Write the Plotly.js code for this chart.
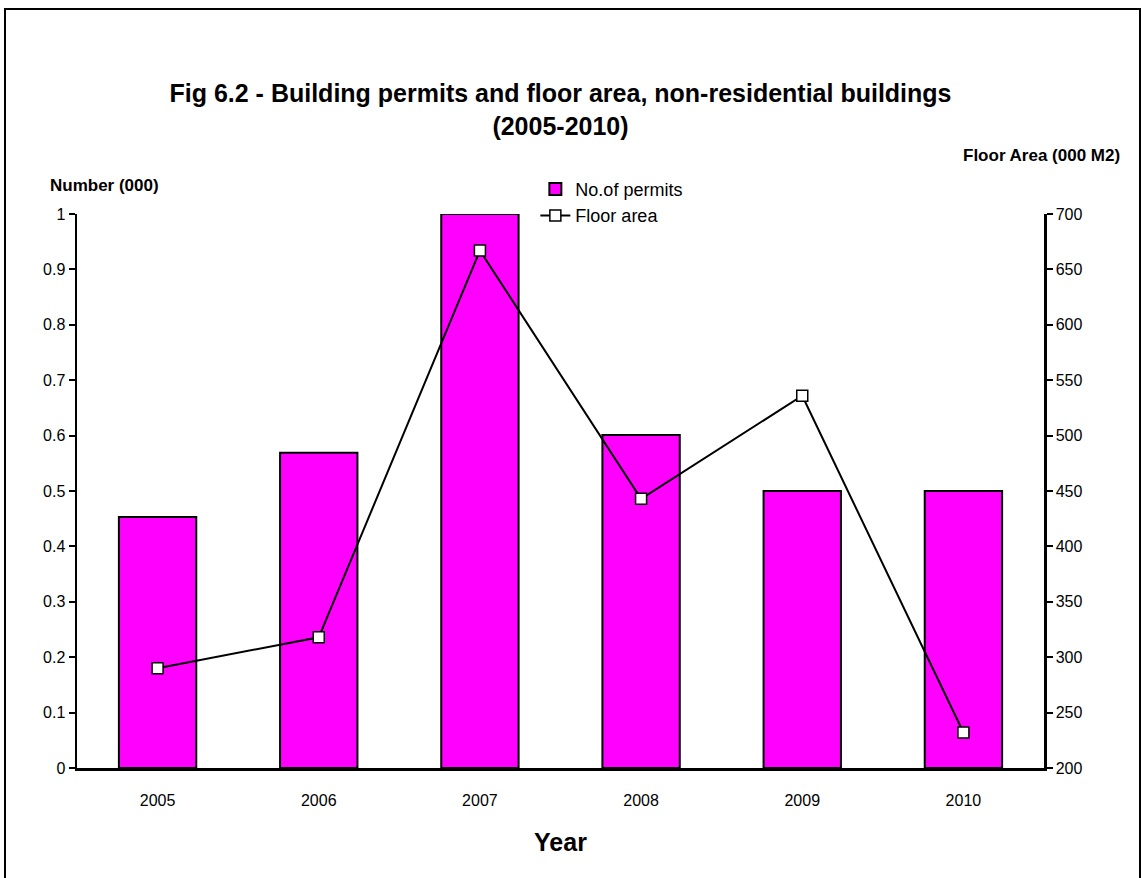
<!DOCTYPE html>
<html>
<head>
<meta charset="utf-8">
<script src="https://cdn.plot.ly/plotly-3.0.1.min.js"></script>
<style>
  html, body { margin: 0; padding: 0; background: #fff; overflow: hidden; }
  #frame { position: absolute; left: 4px; top: 8px; width: 1133px; height: 900px; border: 2px solid #000; }
  #chart { position: absolute; left: 0; top: 0; width: 1141px; height: 878px; }
</style>
</head>
<body>
<div id="frame"></div>
<div id="chart"></div>
<script>
const years = ['2005', '2006', '2007', '2008', '2009', '2010'];
const permits = [0.453, 0.569, 1.0, 0.601, 0.5, 0.5];
const floorArea = [290, 318, 667, 443, 536, 232];

const barTrace = {
  type: 'bar', x: years, y: permits, name: 'No.of permits',
  marker: { color: '#FF00FF', line: { color: '#000', width: 2 } },
  yaxis: 'y'
};
const lineTrace = {
  type: 'scatter', mode: 'lines+markers', x: years, y: floorArea, name: 'Floor area',
  line: { color: '#000', width: 2 },
  marker: { symbol: 'square', size: 11, color: '#fff', line: { color: '#000', width: 1.5 } },
  yaxis: 'y2'
};

const font = { family: 'Arial, Liberation Sans, sans-serif', color: '#000' };

const layout = {
  width: 1141, height: 878,
  paper_bgcolor: 'rgba(0,0,0,0)', plot_bgcolor: 'rgba(0,0,0,0)',
  margin: { l: 77, r: 97, t: 214, b: 110 },
  font: Object.assign({ size: 16 }, font),
  bargap: 0.52,
  showlegend: true,
  title: {
    text: '<b>Fig 6.2 - Building permits and floor area, non-residential buildings<br>(2005-2010)</b>',
    font: Object.assign({}, font, { size: 25 }),
    x: 0.5, xref: 'paper', xanchor: 'center',
    y: 1 - 102 / 878, yref: 'container', yanchor: 'middle'
  },
  xaxis: {
    type: 'category', showline: true, linecolor: '#000', linewidth: 2.5,
    ticks: '', showgrid: false, zeroline: false,
    ticklabelstandoff: 16,
    tickfont: Object.assign({}, font, { size: 16 }),
    title: { text: '<b>Year</b>', font: Object.assign({}, font, { size: 25 }), standoff: 26 }
  },
  yaxis: {
    range: [0, 1], dtick: 0.1, showline: true, linecolor: '#000', linewidth: 2.5,
    ticks: 'outside', ticklen: 6, tickwidth: 2, tickcolor: '#000',
    showgrid: false, zeroline: false,
    tickfont: Object.assign({}, font, { size: 16 })
  },
  yaxis2: {
    range: [200, 700], dtick: 50, overlaying: 'y', side: 'right',
    showline: true, linecolor: '#000', linewidth: 2.5,
    ticks: 'outside', ticklen: 6, tickwidth: 2, tickcolor: '#000',
    showgrid: false, zeroline: false,
    tickfont: Object.assign({}, font, { size: 16 })
  },
  legend: {
    x: 0.474, y: 1.078, xanchor: 'left', yanchor: 'top',
    bgcolor: 'rgba(0,0,0,0)', font: Object.assign({}, font, { size: 18 }),
    tracegroupgap: 0, itemwidth: 30
  },
  annotations: [
    { text: '<b>Number (000)</b>', xref: 'paper', yref: 'paper', x: -0.03, y: 1.052,
      xanchor: 'left', yanchor: 'middle', showarrow: false, font: Object.assign({}, font, { size: 17 }) },
    { text: '<b>Floor Area (000 M2)</b>', xref: 'paper', yref: 'paper', x: 1.081, y: 1.106,
      xanchor: 'right', yanchor: 'middle', showarrow: false, font: Object.assign({}, font, { size: 17 }) }
  ]
};

Plotly.newPlot('chart', [barTrace, lineTrace], layout, { displayModeBar: false, staticPlot: true });
</script>
</body>
</html>
